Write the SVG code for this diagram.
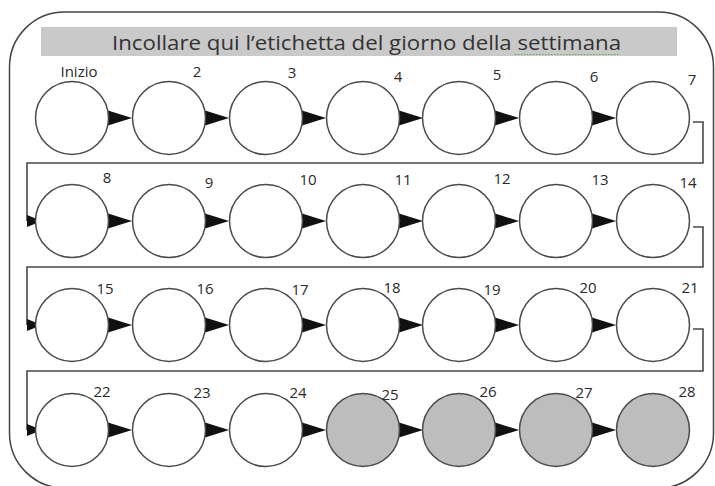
<svg xmlns="http://www.w3.org/2000/svg" xmlns:xlink="http://www.w3.org/1999/xlink" width="715" height="486" viewBox="0 0 715 486">
<style>
.c{fill:#fff;stroke:#4a4a4a;stroke-width:1.5}
.g{fill:#bdbdbd}
.l{font-family:"Open Sans","Liberation Sans",sans-serif;font-size:15px;fill:#2a2a2a;text-anchor:middle}
.w{fill:none;stroke:#4a4a4a;stroke-width:1.6}
</style>
<defs>
<path id="arr" d="M0,-7.5 L24,0 L0,7.5 Z" fill="#111"/>
<path id="ent" d="M0,-6 L15,0 L0,6 Z" fill="#111"/>
</defs>
<rect x="9.5" y="12" width="704" height="476" rx="55" ry="55" fill="#fff" stroke="#444" stroke-width="1.5"/>
<g id="header">
<rect x="41" y="27" width="636" height="29" fill="#c9c9c9"/>
<text x="112" y="50" font-family="'Open Sans','Liberation Sans',sans-serif" font-size="20" fill="#333" textLength="509" lengthAdjust="spacingAndGlyphs">Incollare qui l’etichetta del giorno della settimana</text>
<line x1="515" y1="54.5" x2="620" y2="54.5" stroke="#6aa84f" stroke-width="1.2" stroke-dasharray="1.5,1.5"/>
</g>
<g id="connectors">
<use xlink:href="#arr" x="108" y="118"/><use xlink:href="#arr" x="205" y="118"/><use xlink:href="#arr" x="302" y="118"/><use xlink:href="#arr" x="399" y="118"/><use xlink:href="#arr" x="495" y="118"/><use xlink:href="#arr" x="592" y="118"/>
<use xlink:href="#arr" x="108" y="221"/><use xlink:href="#arr" x="205" y="221"/><use xlink:href="#arr" x="302" y="221"/><use xlink:href="#arr" x="399" y="221"/><use xlink:href="#arr" x="495" y="221"/><use xlink:href="#arr" x="592" y="221"/>
<use xlink:href="#arr" x="108" y="325"/><use xlink:href="#arr" x="205" y="325"/><use xlink:href="#arr" x="302" y="325"/><use xlink:href="#arr" x="399" y="325"/><use xlink:href="#arr" x="495" y="325"/><use xlink:href="#arr" x="592" y="325"/>
<use xlink:href="#arr" x="108" y="430"/><use xlink:href="#arr" x="205" y="430"/><use xlink:href="#arr" x="302" y="430"/><use xlink:href="#arr" x="399" y="430"/><use xlink:href="#arr" x="495" y="430"/><use xlink:href="#arr" x="592" y="430"/>
<path class="w" d="M693,122 H703 V163 H27 V221"/>
<path class="w" d="M693,227 H703 V267 H27 V325"/>
<path class="w" d="M693,329 H703 V371 H27 V430"/>
<use xlink:href="#ent" x="27" y="221"/><use xlink:href="#ent" x="27" y="325"/><use xlink:href="#ent" x="27" y="430"/>
</g>
<g id="d1"><circle class="c" cx="72" cy="118" r="36.5"/><text class="l" x="79" y="77">Inizio</text></g>
<g id="d2"><circle class="c" cx="169" cy="118" r="36.5"/><text class="l" x="197" y="77">2</text></g>
<g id="d3"><circle class="c" cx="266" cy="118" r="36.5"/><text class="l" x="292" y="78">3</text></g>
<g id="d4"><circle class="c" cx="363" cy="118" r="36.5"/><text class="l" x="398" y="82">4</text></g>
<g id="d5"><circle class="c" cx="459" cy="118" r="36.5"/><text class="l" x="497" y="80">5</text></g>
<g id="d6"><circle class="c" cx="556" cy="118" r="36.5"/><text class="l" x="594" y="82">6</text></g>
<g id="d7"><circle class="c" cx="653" cy="118" r="36.5"/><text class="l" x="692" y="85">7</text></g>
<g id="d8"><circle class="c" cx="72" cy="221" r="36.5"/><text class="l" x="107" y="183">8</text></g>
<g id="d9"><circle class="c" cx="169" cy="221" r="36.5"/><text class="l" x="209" y="188">9</text></g>
<g id="d10"><circle class="c" cx="266" cy="221" r="36.5"/><text class="l" x="308" y="185">10</text></g>
<g id="d11"><circle class="c" cx="363" cy="221" r="36.5"/><text class="l" x="403" y="185">11</text></g>
<g id="d12"><circle class="c" cx="459" cy="221" r="36.5"/><text class="l" x="502" y="184">12</text></g>
<g id="d13"><circle class="c" cx="556" cy="221" r="36.5"/><text class="l" x="600" y="185">13</text></g>
<g id="d14"><circle class="c" cx="653" cy="221" r="36.5"/><text class="l" x="688" y="188">14</text></g>
<g id="d15"><circle class="c" cx="72" cy="325" r="36.5"/><text class="l" x="105" y="294">15</text></g>
<g id="d16"><circle class="c" cx="169" cy="325" r="36.5"/><text class="l" x="205" y="294">16</text></g>
<g id="d17"><circle class="c" cx="266" cy="325" r="36.5"/><text class="l" x="300" y="295">17</text></g>
<g id="d18"><circle class="c" cx="363" cy="325" r="36.5"/><text class="l" x="392" y="293">18</text></g>
<g id="d19"><circle class="c" cx="459" cy="325" r="36.5"/><text class="l" x="492" y="295">19</text></g>
<g id="d20"><circle class="c" cx="556" cy="325" r="36.5"/><text class="l" x="588" y="293">20</text></g>
<g id="d21"><circle class="c" cx="653" cy="325" r="36.5"/><text class="l" x="690" y="293">21</text></g>
<g id="d22"><circle class="c" cx="72" cy="430" r="36.5"/><text class="l" x="102" y="397">22</text></g>
<g id="d23"><circle class="c" cx="169" cy="430" r="36.5"/><text class="l" x="202" y="398">23</text></g>
<g id="d24"><circle class="c" cx="266" cy="430" r="36.5"/><text class="l" x="298" y="398">24</text></g>
<g id="d25"><circle class="c g" cx="363" cy="430" r="36.5"/><text class="l" x="390" y="400">25</text></g>
<g id="d26"><circle class="c g" cx="459" cy="430" r="36.5"/><text class="l" x="488" y="397">26</text></g>
<g id="d27"><circle class="c g" cx="556" cy="430" r="36.5"/><text class="l" x="584" y="398">27</text></g>
<g id="d28"><circle class="c g" cx="653" cy="430" r="36.5"/><text class="l" x="687" y="397">28</text></g>
</svg>
